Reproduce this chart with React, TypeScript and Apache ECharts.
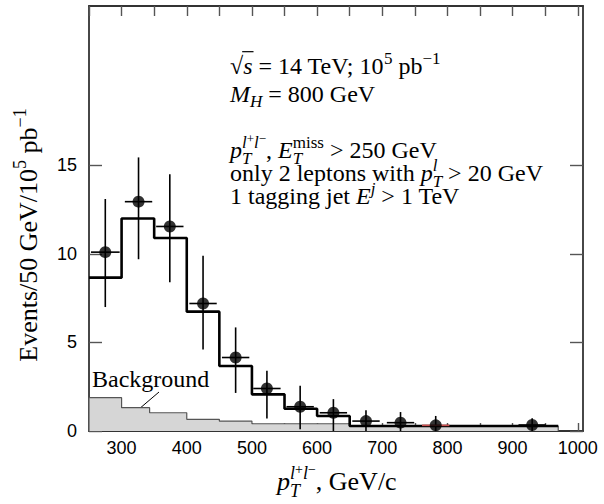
import React, { useEffect, useRef } from "react";
import * as echarts from "echarts";

// Solid step histogram (signal + background), bin edges in GeV and heights
const totalEdges = [250, 300, 350, 400, 450, 500, 550, 600, 650, 970];
const totalHeights = [8.66, 12.0, 10.9, 6.74, 3.67, 2.07, 1.26, 0.85, 0.28];

// Background histogram (grey filled)
const bgEdges = [250, 300, 343, 400, 450, 500, 650, 970];
const bgHeights = [1.88, 1.32, 1.03, 0.66, 0.56, 0.41, 0.27];

// Data points with error bars
const pointX = [275, 326, 374, 425, 475, 523, 574, 625, 675, 728, 782, 930];
const pointY = [10.1, 12.95, 11.55, 7.2, 4.15, 2.4, 1.37, 1.03, 0.56, 0.47, 0.32, 0.34];
const errLow = [7.0, 9.7, 8.4, 4.6, 2.15, 0.7, 0.1, 0, 0, 0, 0, 0];
const errHigh = [13.1, 15.45, 14.5, 9.9, 5.85, 3.4, 2.55, 1.8, 1.17, 1.07, 0.85, 0.72];
const xHalfWidth = [22, 21, 21, 21, 21, 21, 21, 21, 21, 21, 21, 21];

// Axis ticks and labels
const xTickValues = [250, 300, 350, 400, 450, 500, 550, 600, 650, 700, 750, 800, 850, 900, 950, 1000];
const xLabelValues = [300, 400, 500, 600, 700, 800, 900, 1000];
const yTickValues = [0, 5, 10, 15];

const SERIF = "Liberation Serif";
const SANS = "Liberation Sans";

type Run = { t?: string; s?: number; it?: boolean; dy?: number; over?: boolean; stack?: Run[][] };

const measureCanvas = typeof document !== "undefined" ? document.createElement("canvas") : null;
const mctx = measureCanvas ? measureCanvas.getContext("2d") : null;

function textWidth(t: string, s: number, it?: boolean) {
  if (!mctx) return t.length * s * 0.5;
  mctx.font = `${it ? "italic " : ""}${s}px "${SERIF}"`;
  return mctx.measureText(t).width;
}

function layoutRuns(runs: Run[], x0: number, base: number, size: number, out: any[]): number {
  let x = x0;
  for (const r of runs) {
    if (r.stack) {
      let maxW = 0;
      for (const sub of r.stack) {
        const end = layoutRuns(sub, x, base, size, out);
        maxW = Math.max(maxW, end - x);
      }
      x += maxW;
      continue;
    }
    const s = r.s ?? size;
    const t = r.t ?? "";
    const w = textWidth(t, s, r.it);
    const by = base + (r.dy ?? 0);
    out.push({
      type: "text",
      x,
      y: by - 0.34 * s,
      silent: true,
      style: {
        text: t,
        fontSize: s,
        fontFamily: SERIF,
        fontStyle: r.it ? "italic" : "normal",
        fill: "#000",
        align: "left",
        verticalAlign: "middle",
      },
    });
    if (r.over) {
      out.push({
        type: "line",
        silent: true,
        shape: { x1: x - 1, y1: by - 0.93 * s, x2: x + w + 1, y2: by - 0.93 * s },
        style: { stroke: "#000", lineWidth: 1.2 },
      });
    }
    x += w;
  }
  return x;
}

function stepData(edges: number[], vals: number[], closeLeft: boolean, closeRight: boolean) {
  const pts: number[][] = [];
  if (closeLeft) pts.push([edges[0], 0]);
  vals.forEach((v, i) => pts.push([edges[i], v]));
  const last = edges[edges.length - 1];
  pts.push([last, vals[vals.length - 1]]);
  if (closeRight) pts.push([last, 0]);
  return pts;
}

function buildGraphics() {
  const els: any[] = [];
  const S = 24;
  const SS = 17;
  const X0 = 230;
  // line 1
  layoutRuns(
    [
      { t: "√" },
      { t: "s", it: true, over: true },
      { t: " = 14 TeV; 10" },
      { t: "5", s: SS, dy: -10 },
      { t: " pb" },
      { t: "−1", s: SS, dy: -10 },
    ],
    X0, 74, S, els
  );
  // line 2
  layoutRuns(
    [{ t: "M", it: true }, { t: "H", s: SS, it: true, dy: 5 }, { t: " = 800 GeV" }],
    X0, 102, S, els
  );
  // line 3
  layoutRuns(
    [
      { t: "p", it: true },
      {
        stack: [
          [{ t: "T", s: SS, it: true, dy: 6 }],
          [
            { t: "l", s: SS, it: true, dy: -10 },
            { t: "+", s: 13, dy: -15 },
            { t: "l", s: SS, it: true, dy: -10 },
            { t: "−", s: 13, dy: -15 },
          ],
        ],
      },
      { t: ", " },
      { t: "E", it: true },
      { stack: [[{ t: "T", s: SS, it: true, dy: 6 }], [{ t: "miss", s: SS, dy: -10 }]] },
      { t: " > 250 GeV" },
    ],
    X0, 158, S, els
  );
  // line 4
  layoutRuns(
    [
      { t: "only 2 leptons with " },
      { t: "p", it: true },
      { stack: [[{ t: "T", s: SS, it: true, dy: 6 }], [{ t: "l", s: SS, it: true, dy: -10 }]] },
      { t: " > 20 GeV" },
    ],
    X0, 181, S, els
  );
  // line 5
  layoutRuns(
    [{ t: "1 tagging jet " }, { t: "E", it: true }, { t: "j", s: SS, it: true, dy: -10 }, { t: " > 1 TeV" }],
    X0, 204, S, els
  );
  // Background label + pointer
  layoutRuns([{ t: "Background" }], 92, 387, 24, els);
  els.push({
    type: "line",
    silent: true,
    shape: { x1: 132, y1: 415, x2: 159, y2: 392 },
    style: { stroke: "#000", lineWidth: 1 },
  });
  // x-axis title
  layoutRuns(
    [
      { t: "p", it: true },
      {
        stack: [
          [{ t: "T", s: 18, it: true, dy: 7 }],
          [
            { t: "l", s: 18, it: true, dy: -11 },
            { t: "+", s: 14, dy: -16 },
            { t: "l", s: 18, it: true, dy: -11 },
            { t: "−", s: 14, dy: -16 },
          ],
        ],
      },
      { t: ", GeV/c" },
    ],
    277, 490, 26, els
  );
  // y-axis title (rotated)
  const yt: any[] = [];
  const yw = layoutRuns(
    [
      { t: "Events/50 GeV/10" },
      { t: "5", s: 18, dy: -11 },
      { t: " pb" },
      { t: "−1", s: 18, dy: -11 },
    ],
    0, 0, 26, yt
  );
  els.push({ type: "group", x: 37, y: 235 + yw / 2, rotation: Math.PI / 2, children: yt });
  return els;
}

export default function App() {
  const ref = useRef<HTMLDivElement>(null);
  useEffect(() => {
    if (!ref.current) return;
    const chart = echarts.init(ref.current, null, { renderer: "svg" });
    const axisLine = { show: true, onZero: false, lineStyle: { color: "#333", width: 1.8 } };
    const tickStyle = { color: "#555", width: 1.4 };
    const errData = pointX.map((x, i) => [x, errLow[i], errHigh[i], pointY[i], xHalfWidth[i]]);
    const option: any = {
      animation: false,
      backgroundColor: "#fff",
      grid: { left: 89, right: 21, top: 6, bottom: 73, containLabel: false },
      xAxis: [
        {
          type: "value",
          position: "bottom",
          min: 250,
          max: 1008,
          interval: 50,
          axisLine,
          axisTick: { show: true, inside: true, length: 8, customValues: xTickValues, lineStyle: tickStyle },
          axisLabel: {
            show: true,
            customValues: xLabelValues,
            fontFamily: SANS,
            fontSize: 18,
            color: "#000",
            margin: 8,
            formatter: (v: number) => (v % 100 === 0 ? String(v) : ""),
          },
          splitLine: { show: false },
        },
        {
          type: "value",
          position: "top",
          min: 250,
          max: 1008,
          interval: 50,
          axisLine,
          axisTick: { show: true, inside: true, length: 10, customValues: xTickValues, lineStyle: tickStyle },
          axisLabel: { show: false },
          splitLine: { show: false },
        },
      ],
      yAxis: [
        {
          type: "value",
          position: "left",
          min: 0,
          max: 24,
          interval: 5,
          axisLine,
          axisTick: { show: true, inside: true, length: 13, customValues: yTickValues, lineStyle: tickStyle },
          axisLabel: {
            show: true,
            customValues: yTickValues,
            fontFamily: SANS,
            fontSize: 18,
            color: "#000",
            margin: 12,
          },
          splitLine: { show: false },
        },
        {
          type: "value",
          position: "right",
          min: 0,
          max: 24,
          interval: 5,
          axisLine,
          axisTick: { show: true, inside: true, length: 13, customValues: yTickValues, lineStyle: tickStyle },
          axisLabel: { show: false },
          splitLine: { show: false },
        },
      ],
      series: [
        {
          name: "Background",
          type: "line",
          step: "end",
          symbol: "none",
          data: stepData(bgEdges, bgHeights, true, true),
          lineStyle: { color: "#555", width: 1.2 },
          areaStyle: { color: "#d6d6d6", opacity: 1 },
          z: 1,
        },
        {
          name: "Total",
          type: "line",
          step: "end",
          symbol: "none",
          data: stepData(totalEdges, totalHeights, false, false),
          lineStyle: { color: "#000", width: 2.6 },
          z: 3,
        },
        {
          name: "Errors",
          type: "custom",
          z: 4,
          renderItem: (params: any, api: any) => {
            const x = api.value(0);
            const lo = api.value(1);
            const hi = api.value(2);
            const y = api.value(3);
            const hw = api.value(4);
            const top = api.coord([x, hi]);
            const bot = api.coord([x, lo]);
            const l = api.coord([x - hw, y]);
            const r = api.coord([x + hw, y]);
            return {
              type: "group",
              children: [
                { type: "line", shape: { x1: top[0], y1: top[1], x2: bot[0], y2: bot[1] }, style: { stroke: "#000", lineWidth: 1.6 } },
                {
                  type: "line",
                  shape: { x1: l[0], y1: l[1], x2: r[0], y2: r[1] },
                  style: { stroke: params.dataIndex === 10 ? "#c85050" : "#000", lineWidth: 1.6 },
                },
              ],
            };
          },
          encode: { x: 0, y: [1, 2] },
          data: errData,
        },
        {
          name: "Data",
          type: "scatter",
          symbol: "circle",
          symbolSize: 12,
          itemStyle: { color: "#000" },
          data: pointX.map((x, i) => [x, pointY[i]]),
          z: 5,
        },
      ],
      graphic: { elements: buildGraphics() },
    };
    chart.setOption(option);
    return () => chart.dispose();
  }, []);
  return <div ref={ref} style={{ position: "fixed", left: 0, top: 0, width: 604, height: 504, background: "#fff" }} />;
}
